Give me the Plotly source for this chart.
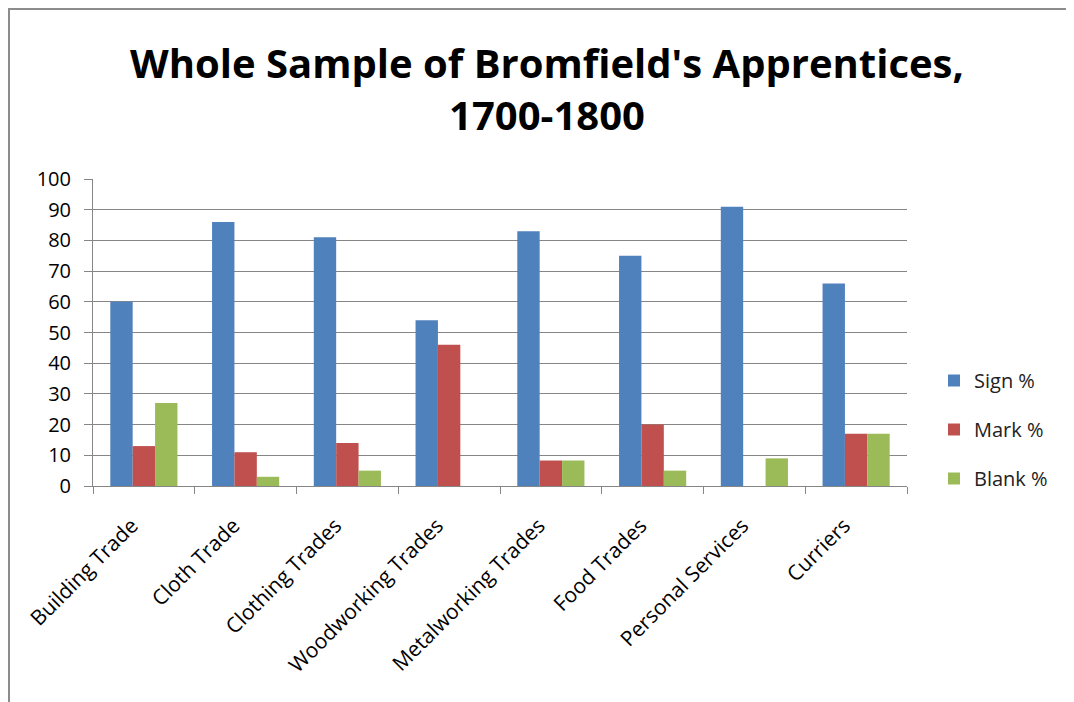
import plotly.graph_objs as go

categories = ["Building Trade", "Cloth Trade", "Clothing Trades", "Woodworking Trades",
              "Metalworking Trades", "Food Trades", "Personal Services", "Curriers"]
sign_pct = [60, 86, 81, 54, 83, 75, 91, 66]
mark_pct = [13, 11, 14, 46, 8.3, 20, 0, 17]
blank_pct = [27, 3, 5, 0, 8.3, 5, 9, 17]
series_names = ["Sign %", "Mark %", "Blank %"]
colors = ["#4F81BD", "#C0504D", "#9BBB59"]

# page body has an 8px margin, so work in page pixels and subtract it
OFF = 8
W, H = 1074 - OFF, 702 - OFF
L, R, T, B = 93 - OFF, 907 - OFF, 179 - OFF, 486 - OFF

fig = go.Figure()
for i, (name, vals) in enumerate(zip(series_names, [sign_pct, mark_pct, blank_pct])):
    fig.add_trace(go.Bar(
        x=categories, y=vals, name=name,
        marker=dict(color=colors[i], line=dict(width=0)),
        legendgroup=name,
    ))


def px_x(x):
    return (x - OFF - L) / (R - L)


def px_y(y):
    return (B - (y - OFF)) / (B - T)


fig.update_layout(
    width=W, height=H,
    margin=dict(l=L, r=W - R, t=T, b=H - B, pad=0),
    paper_bgcolor="white", plot_bgcolor="white",
    font=dict(family="Open Sans", size=19, color="#000000"),
    title=dict(
        text="<b>Whole Sample of Bromfield's Apprentices,<br>1700-1800</b>",
        x=px_x(547), xanchor="center", xref="paper",
        y=(H - 70) / H, yanchor="top",
        font=dict(size=40, family="Open Sans", color="#000000"),
    ),
    barmode="group", bargap=0.34, bargroupgap=0,
    legend=dict(
        x=px_x(934), y=px_y(361), xanchor="left", yanchor="top",
        font=dict(size=20, color="#222222"), tracegroupgap=20,
        bgcolor="rgba(0,0,0,0)",
    ),
    showlegend=True,
)
fig.update_xaxes(
    showline=True, linecolor="#868686", linewidth=1,
    ticks="outside", tickcolor="#868686", ticklen=7, tickson="boundaries",
    tickangle=-45, tickfont=dict(size=21), showgrid=False,
    ticklabelstandoff=18, ticklabelshift=-12,
)
fig.update_yaxes(
    range=[0, 100], dtick=10, showline=True, linecolor="#868686", linewidth=1,
    ticks="outside", tickcolor="#868686", ticklen=8,
    showgrid=True, gridcolor="#868686", gridwidth=1, zeroline=False,
    tickfont=dict(size=20), ticklabelstandoff=9,
)

# chart frame (top and left edges)
fig.add_shape(type="line", xref="paper", yref="paper",
              x0=px_x(6), x1=px_x(1074), y0=px_y(9), y1=px_y(9),
              line=dict(color="#8c8c8c", width=2))
fig.add_shape(type="line", xref="paper", yref="paper",
              x0=px_x(9), x1=px_x(9), y0=px_y(9), y1=px_y(702),
              line=dict(color="#8c8c8c", width=2))

fig.write_html("out.html")
